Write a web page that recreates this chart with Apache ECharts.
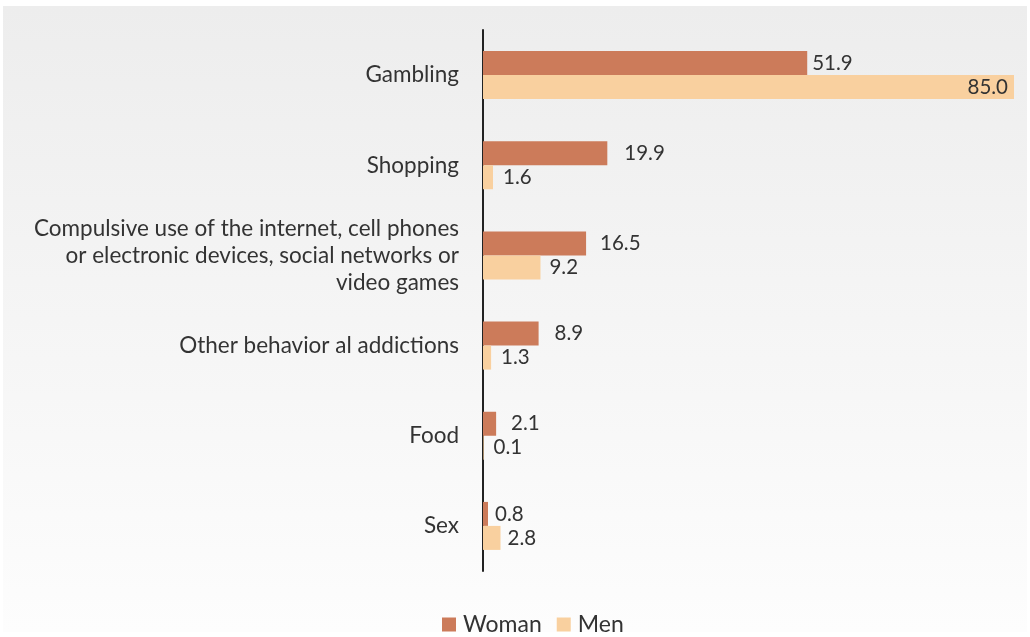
<!DOCTYPE html>
<html><head><meta charset="utf-8">
<script src="https://cdn.jsdelivr.net/npm/echarts@6/dist/echarts.min.js"></script>
<style>html,body{margin:0;padding:0;background:#fff}#c{width:1030px;height:637px}</style>
</head><body><div id="c"></div>
<script>
var categories = ['Gambling','Shopping','Compulsive use of the internet, cell phones\nor electronic devices, social networks or\nvideo games','Other behavior al addictions','Food','Sex'];
var woman = [51.9, 19.9, 16.5, 8.9, 2.1, 0.8];
var men = [85.0, 1.6, 9.2, 1.3, 0.1, 2.8];
var womanOffsets = [5, 17, 14, 16, 15, 7];
var menOffsets = [0, 10, 9, 10, 10, 7];

var chart = echarts.init(document.getElementById('c'));
var font = 'Lato';
function mk(vals, offs, isMen) {
  return vals.map(function (v, i) {
    var lbl = {offset: [offs[i], 0]};
    if (isMen && i === 0) lbl = {position: 'insideRight', offset: [-6, 0]};
    return {value: v, label: lbl};
  });
}
chart.setOption({
  animation: false,
  graphic: [{
    type: 'rect', z: -10, silent: true,
    shape: {x: 3, y: 6, width: 1024, height: 626},
    style: {fill: new echarts.graphic.LinearGradient(0, 0, 0, 1, [
      {offset: 0, color: '#ededed'}, {offset: 1, color: '#fdfdfd'}])}
  }],
  grid: {left: 483, right: 16, top: 30, bottom: 66, containLabel: false},
  legend: {
    bottom: -4, left: 437, itemWidth: 14, itemHeight: 14, itemGap: 15,
    icon: 'rect',
    textStyle: {fontFamily: font, fontSize: 23, color: '#333', padding: [0, 0, 0, 2]},
    data: ['Woman', 'Men']
  },
  xAxis: {type: 'value', min: 0, max: 85, show: false},
  yAxis: {
    type: 'category', inverse: true, data: categories,
    axisLine: {show: true, lineStyle: {color: '#222', width: 2}},
    axisTick: {show: false},
    axisLabel: {margin: 24, fontFamily: font, fontSize: 22.5, color: '#333', lineHeight: 27, padding: [3, 0, 0, 0]}
  },
  series: [{
    name: 'Woman', type: 'bar', data: mk(woman, womanOffsets, false),
    barWidth: 24, barGap: '0%',
    itemStyle: {color: '#cc7b5a'},
    label: {show: true, position: 'right', distance: 0, fontFamily: font, fontSize: 20.5, color: '#333',
      formatter: function (p) { return p.value.toFixed(1); }}
  }, {
    name: 'Men', type: 'bar', data: mk(men, menOffsets, true),
    barWidth: 24, barGap: '0%',
    itemStyle: {color: '#f9d09f'},
    label: {show: true, position: 'right', distance: 0, fontFamily: font, fontSize: 20.5, color: '#333',
      formatter: function (p) { return p.value.toFixed(1); }}
  }]
});
</script></body></html>
